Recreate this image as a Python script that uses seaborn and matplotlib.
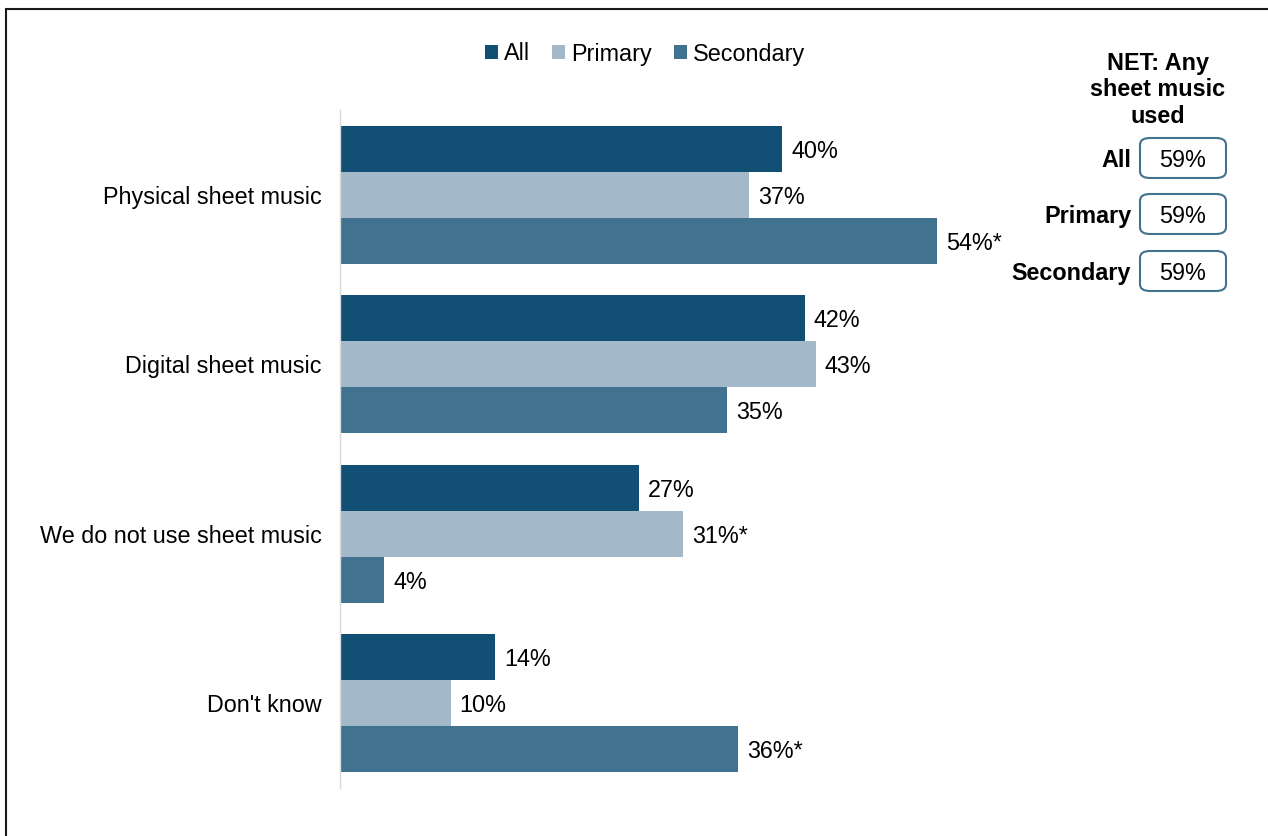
import matplotlib
matplotlib.use("Agg")
import matplotlib.pyplot as plt
import seaborn as sns
import pandas as pd
from matplotlib.patches import FancyBboxPatch, Rectangle, Patch

categories = ["Physical sheet music", "Digital sheet music", "We do not use sheet music", "Don't know"]
series = ["All", "Primary", "Secondary"]
all_vals = [40, 42, 27, 14]
primary_vals = [37, 43, 31, 10]
secondary_vals = [54, 35, 4, 36]
all_labels = ["40%", "42%", "27%", "14%"]
primary_labels = ["37%", "43%", "31%*", "10%"]
secondary_labels = ["54%*", "35%", "4%", "36%*"]
net_groups = ["All", "Primary", "Secondary"]
net_values = ["59%", "59%", "59%"]
net_title = "NET: Any\nsheet music\nused"

colors = ["#114F75", "#A3B9C9", "#417391"]

sns.set_style("white")
plt.rcParams['font.family'] = ['Liberation Sans', 'DejaVu Sans']
plt.rcParams['text.color'] = 'black'
plt.rcParams['ytick.color'] = 'black'
plt.rcParams['ytick.labelcolor'] = 'black'

FS = 16.8

rows = []
for s, vals in zip(series, [all_vals, primary_vals, secondary_vals]):
    for c, v in zip(categories, vals):
        rows.append({"cat": c, "series": s, "val": v})
df = pd.DataFrame(rows)

W, H = 1268, 836
fig = plt.figure(figsize=(W / 100, H / 100), dpi=100)
ax = fig.add_axes([340 / W, 1 - 788 / H, 663.6 / W, 678 / H])

sns.barplot(data=df, y="cat", x="val", hue="series", order=categories, hue_order=series,
            palette=colors, width=0.814, orient="h", ax=ax, legend=False, saturation=1,
            edgecolor="none")

ax.set_xlim(0, 60)
ax.set_ylim(3.5, -0.5)
ax.set_xlabel("")
ax.set_ylabel("")
ax.set_xticks([])
ax.tick_params(axis="y", length=0, pad=13, labelsize=FS, labelcolor="black")
for sp in ["top", "right", "bottom"]:
    ax.spines[sp].set_visible(False)
ax.spines["left"].set_color("#D9D9D9")
ax.spines["left"].set_linewidth(1)

label_sets = [all_labels, primary_labels, secondary_labels]
for cont, labs in zip(ax.containers, label_sets):
    texts = ax.bar_label(cont, labels=labs, padding=6.5, fontsize=FS, color="black")
    for t in texts:
        t.set_va("center_baseline")

# legend
handles = [Patch(facecolor=c, edgecolor="none") for c in colors]
fig.legend(handles, series, loc="center", bbox_to_anchor=(645 / W, 1 - 54 / H), ncol=3,
           frameon=False, fontsize=FS, handlelength=0.55, handleheight=0.55,
           handletextpad=0.25, columnspacing=0.95, borderpad=0)

# NET panel
fig.text(1158 / W, 1 - 90 / H, net_title, ha="center", va="center", fontsize=FS,
         fontweight="bold", linespacing=1.22, multialignment="center")
box_centers = [158, 214, 271]
for g, v, yc in zip(net_groups, net_values, box_centers):
    fig.text(1131 / W, 1 - yc / H, g, ha="right", va="center_baseline", fontsize=FS, fontweight="bold")
    box = FancyBboxPatch((1140 / W, 1 - (yc + 20) / H), 86 / W, 40 / H,
                         boxstyle="round,pad=0,rounding_size=0.008",
                         transform=fig.transFigure, facecolor="white",
                         edgecolor="#41728F", linewidth=1.5)
    fig.add_artist(box)
    fig.text(1183 / W, 1 - yc / H, v, ha="center", va="center_baseline", fontsize=FS)

# outer frame (top and left visible)
frame = Rectangle((6 / W, -0.1), 1.2, (1 - 9 / H) + 0.1, transform=fig.transFigure,
                  facecolor="none", edgecolor="#1a1a1a", linewidth=1.5)
fig.add_artist(frame)

fig.savefig("out.png", dpi=100)
